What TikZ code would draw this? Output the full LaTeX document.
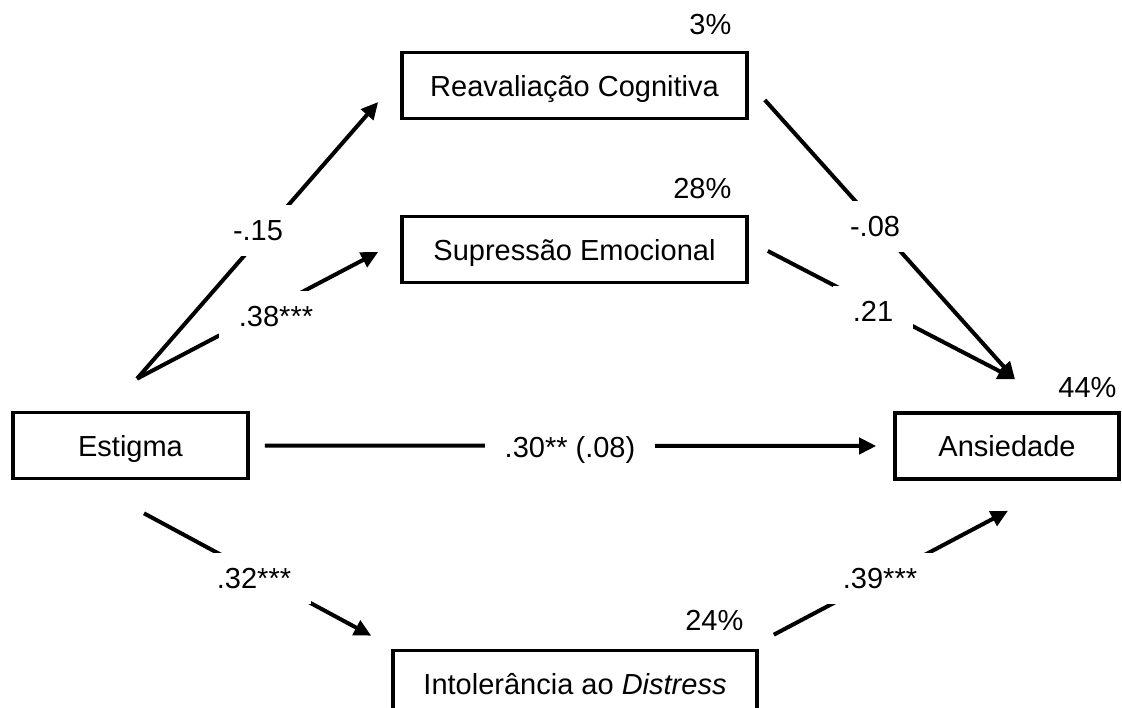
\documentclass[tikz,border=0pt]{standalone}
\usepackage{fontspec}
\setmainfont{Liberation Sans}
\usepackage{tikz}
\usetikzlibrary{
  positioning,
  arrows.meta,
  calc
}
\newcommand{\diagfont}{\fontsize{14.5pt}{17pt}\selectfont}

\begin{document}
\begin{tikzpicture}[x=0.5pt, y=-0.5pt,
  box/.style={draw, line width=1.8pt, minimum height=33pt, inner sep=0pt, text height=10.5pt, text depth=0pt, font=\diagfont},
  pct/.style={anchor=south east, inner sep=0pt, text depth=0pt, font=\diagfont},
  coef/.style={fill=white, inner xsep=10pt, inner ysep=7.5pt, text height=10.5pt, text depth=0pt, font=\diagfont},
  link/.style={line width=2pt, -{Triangle[length=8.5pt,width=8pt]}}
]
  \clip (0,0) rectangle (1122,707);

  % Variables
  \node[box, minimum width=117.5pt] (est) at (130.5,445.5) {Estigma};
  \node[box, minimum width=172.5pt] (rc) at (574.5,85.5) {Reavaliação Cognitiva};
  \node[box, minimum width=172.5pt] (se) at (574.5,249.5) {Supressão Emocional};
  \node[box, minimum width=112pt] (an) at (1007,446) {Ansiedade};
  \node[box, minimum width=182pt] (di) at (575,683.5) {Intolerância ao \textit{Distress}};

  % Explained variance
  \node[pct] at ([xshift=-8.5pt, yshift=7.75pt]rc.north east) {3\%};
  \node[pct] at ([xshift=-8.5pt, yshift=7.75pt]se.north east) {28\%};
  \node[pct] at ([xshift=-2pt, yshift=6.75pt]an.north east) {44\%};
  \node[pct] at ([xshift=-7.5pt, yshift=8.75pt]di.north east) {24\%};

  % Path ends
  \coordinate (estN) at ([xshift=3.25pt, yshift=16pt]est.north);
  \coordinate (estS) at ([xshift=6.75pt, yshift=-16.5pt]est.south);
  \coordinate (rcIn) at ([xshift=-11pt, yshift=-8.25pt]rc.west);
  \coordinate (rcOut) at ([xshift=8pt, yshift=-7.25pt]rc.east);
  \coordinate (seIn) at ([xshift=-11pt, yshift=-1.25pt]se.west);
  \coordinate (seOut) at ([xshift=9.5pt, yshift=-0.75pt]se.east);
  \coordinate (anN) at ([xshift=4pt, yshift=16pt]an.north);
  \coordinate (anS) at ([xshift=0.5pt, yshift=-15pt]an.south);
  \coordinate (diIn) at ([xshift=-10pt, yshift=6.5pt]di.north west);
  \coordinate (diOut) at ([xshift=7.5pt, yshift=7pt]di.north east);

  % Paths
  \draw[link] (estN) -- (rcIn);
  \draw[link] (estN) -- (seIn);
  \draw[link] (rcOut) -- (anN);
  \draw[link] (seOut) -- (anN);
  \draw[link, shorten <=7.5pt, shorten >=8.5pt] (est.east) -- (an.west);
  \draw[link] (estS) -- (diIn);
  \draw[link] (diOut) -- (anS);

  % Coefficients
  \node[coef] (cEstRc) at (258,230) {-.15};
  \node[coef] (cEstSe) at (276,316) {.38***};
  \node[coef] (cRcAn) at (875,226) {-.08};
  \node[coef] (cSeAn) at (873,311) {.21};
  \node[coef] (cEstAn) at (570,447) {.30** (.08)};
  \node[coef] (cEstDi) at (254,578) {.32***};
  \node[coef] (cDiAn) at (880,578) {.39***};
\end{tikzpicture}
\end{document}
